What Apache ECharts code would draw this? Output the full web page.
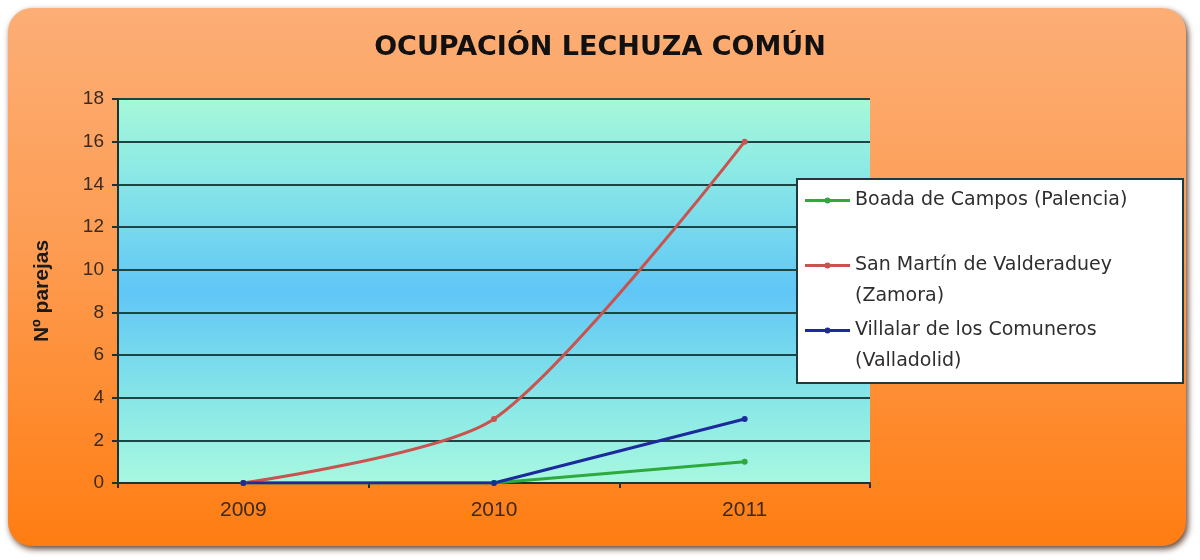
<!DOCTYPE html>
<html>
<head>
<meta charset="utf-8">
<script src="https://cdn.jsdelivr.net/npm/echarts@6/dist/echarts.min.js"></script>
<style>
  html, body { margin: 0; padding: 0; background: #fff; }
  #chart { width: 1200px; height: 560px; }
</style>
</head>
<body>
<div id="chart"></div>
<script>
  // datos
  var years = ['2009', '2010', '2011']
  var boada = [0, 0, 1]
  var sanMartin = [0, 3, 16]
  var villalar = [0, 0, 3]
  var yTicks = { min: 0, max: 18, interval: 2 }

  var names = {
    boada: 'Boada de Campos (Palencia)',
    sanMartin: 'San Martín de Valderaduey (Zamora)',
    villalar: 'Villalar de los Comuneros (Valladolid)'
  }
  var legendLabels = {}
  legendLabels[names.boada] = 'Boada de Campos (Palencia)\n'
  legendLabels[names.sanMartin] = 'San Martín de Valderaduey\n(Zamora)'
  legendLabels[names.villalar] = 'Villalar de los Comuneros\n(Valladolid)'

  var chart = echarts.init(document.getElementById('chart'))

  // icono de leyenda: linea con punto, arriba de la caja (alineado con la 1a linea de texto)
  var legendIcon = 'path://M0,0 L0.1,0 L0.1,0.1 Z M0,1.5 L45,1.5 L45,4.5 L0,4.5 Z ' +
    'M19.5,3 A3,3 0 1 1 25.5,3 A3,3 0 1 1 19.5,3 Z M0,37 L0.1,37 L0.1,36.9 Z'

  var option = {
    backgroundColor: '#ffffff',
    textStyle: { fontFamily: 'Liberation Sans' },

    graphic: [{
      type: 'rect',
      z: -10,
      silent: true,
      shape: { x: 8, y: 8, width: 1178, height: 538, r: 24 },
      style: {
        fill: new echarts.graphic.LinearGradient(0, 0, 0, 1, [
          { offset: 0, color: '#fcae76' },
          { offset: 0.45, color: '#fd9c52' },
          { offset: 1, color: '#ff7d12' }
        ]),
        shadowBlur: 6,
        shadowOffsetX: 2,
        shadowOffsetY: 3,
        shadowColor: 'rgba(60,20,0,0.8)'
      }
    }],

    title: {
      text: 'OCUPACIÓN LECHUZA COMÚN',
      left: 'center',
      top: 29,
      textStyle: {
        fontFamily: 'DejaVu Sans',
        fontWeight: 'bold',
        fontSize: 27,
        color: '#111'
      }
    },

    grid: {
      left: 118,
      right: 330,
      top: 99,
      bottom: 77,
      show: true,
      borderWidth: 0,
      backgroundColor: new echarts.graphic.LinearGradient(0, 0, 0, 1, [
        { offset: 0, color: '#a6f8d8' },
        { offset: 0.2, color: '#8ae8e6' },
        { offset: 0.5, color: '#60c6f6' },
        { offset: 0.8, color: '#8ae8e6' },
        { offset: 1, color: '#a8f8e0' }
      ])
    },

    legend: {
      orient: 'vertical',
      left: 797,
      top: 179,
      padding: [6, 6, 6, 8],
      itemGap: 3,
      itemWidth: 45,
      itemHeight: 37,
      icon: legendIcon,
      backgroundColor: '#ffffff',
      borderColor: '#1e3a3a',
      borderWidth: 2,
      data: [names.boada, names.sanMartin, names.villalar],
      formatter: function (n) { return legendLabels[n] },
      textStyle: {
        fontFamily: 'DejaVu Sans',
        fontSize: 19,
        lineHeight: 31,
        width: 322,
        color: '#2e2e2e'
      }
    },

    xAxis: {
      type: 'category',
      data: years,
      boundaryGap: true,
      axisLine: { lineStyle: { color: '#1a3434', width: 2 } },
      axisTick: { show: true, length: 5, lineStyle: { color: '#1a3434', width: 2 } },
      axisLabel: { color: '#3a2a20', fontSize: 21, margin: 17 }
    },

    yAxis: {
      type: 'value',
      min: yTicks.min,
      max: yTicks.max,
      interval: yTicks.interval,
      name: 'Nº parejas',
      nameLocation: 'middle',
      nameGap: 65,
      nameTextStyle: { fontWeight: 'bold', fontSize: 21, color: '#1a1a1a' },
      axisLine: { show: true, lineStyle: { color: '#1a3434', width: 2 } },
      axisTick: { show: true, length: 6, lineStyle: { color: '#1a3434', width: 2 } },
      axisLabel: { color: '#3a2a20', fontSize: 19, margin: 14 },
      splitLine: { show: true, lineStyle: { color: '#1c4646', width: 2 } }
    },

    series: [{
      name: names.boada,
      type: 'line',
      data: boada,
      symbol: 'circle',
      symbolSize: 6,
      color: '#2eaa3c',
      lineStyle: { width: 3 }
    }, {
      name: names.sanMartin,
      type: 'line',
      data: sanMartin,
      smooth: 0.25,
      symbol: 'circle',
      symbolSize: 6,
      color: '#c9534f',
      lineStyle: { width: 3 }
    }, {
      name: names.villalar,
      type: 'line',
      data: villalar,
      symbol: 'circle',
      symbolSize: 6,
      color: '#1c2a9c',
      lineStyle: { width: 3 }
    }]
  }

  chart.setOption(option)
</script>
</body>
</html>
